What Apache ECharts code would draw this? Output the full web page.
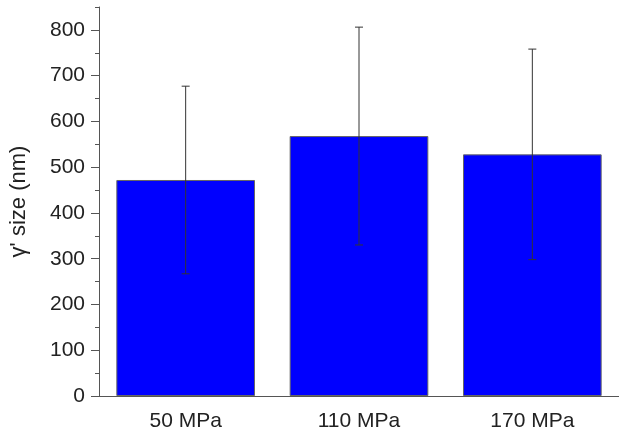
<!DOCTYPE html>
<html>
<head>
<meta charset="utf-8">
<script src="https://cdn.jsdelivr.net/npm/echarts@6/dist/echarts.min.js"></script>
<style>
  html, body { margin: 0; padding: 0; background: #fff; }
  #main { width: 619px; height: 435px; }
</style>
</head>
<body>
<div id="main"></div>
<script>
// data
let categories = ['50 MPa', '110 MPa', '170 MPa'];
let sizeMean = [472, 568, 528];
let sizeErr = [205, 238, 230];
let majorTicks = [0, 100, 200, 300, 400, 500, 600, 700, 800];
let minorTicks = [50, 150, 250, 350, 450, 550, 650, 750, 850];

let myChart = echarts.init(document.getElementById('main'));

let font = 'Liberation Sans, Arial, sans-serif';
let axisColor = '#555';

let errData = sizeMean.map(function (m, i) {
    return [i, m - sizeErr[i], m + sizeErr[i]];
});

let option = {
    backgroundColor: '#fff',
    animation: false,
    grid: { left: 98, right: 0, top: 7, bottom: 39 },
    xAxis: [{
        type: 'category',
        data: categories,
        axisLine: { lineStyle: { color: axisColor, width: 1 } },
        axisTick: { alignWithLabel: true, length: 8, lineStyle: { color: axisColor } },
        axisLabel: { color: '#222', fontSize: 21, fontFamily: font, margin: 15 }
    }, {
        // minor ticks at category boundaries
        type: 'category',
        data: categories,
        position: 'bottom',
        axisLine: { show: false },
        axisTick: { length: 4, lineStyle: { color: axisColor } },
        axisLabel: { show: false }
    }],
    yAxis: [{
        type: 'value',
        min: 0,
        max: 850,
        name: "\u03b3' size (nm)",
        nameLocation: 'middle',
        nameGap: 69,
        nameTextStyle: { color: '#222', fontSize: 22, fontFamily: font },
        axisLine: { show: true, lineStyle: { color: axisColor, width: 1 } },
        axisTick: { show: true, length: 8, customValues: majorTicks, lineStyle: { color: axisColor } },
        axisLabel: { customValues: majorTicks, color: '#222', fontSize: 21, fontFamily: font, margin: 14 },
        splitLine: { show: false }
    }, {
        type: 'value',
        min: 0,
        max: 850,
        position: 'left',
        offset: 0,
        axisLine: { show: false },
        axisTick: { show: true, length: 4, customValues: minorTicks, lineStyle: { color: axisColor } },
        axisLabel: { show: false },
        splitLine: { show: false }
    }],
    series: [{
        type: 'bar',
        data: sizeMean,
        barWidth: '80%',
        itemStyle: { color: '#0000ff', borderColor: '#666', borderWidth: 1 }
    }, {
        type: 'custom',
        data: errData,
        z: 10,
        renderItem: function (params, api) {
            let x = api.value(0);
            let lo = api.coord([x, api.value(1)]);
            let hi = api.coord([x, api.value(2)]);
            let cap = 4;
            let style = { stroke: '#333', lineWidth: 1 };
            return {
                type: 'group',
                children: [
                    { type: 'line', shape: { x1: hi[0], y1: hi[1], x2: lo[0], y2: lo[1] }, style: style },
                    { type: 'line', shape: { x1: hi[0] - cap, y1: hi[1], x2: hi[0] + cap, y2: hi[1] }, style: style },
                    { type: 'line', shape: { x1: lo[0] - cap, y1: lo[1], x2: lo[0] + cap, y2: lo[1] }, style: style }
                ]
            };
        }
    }]
};

myChart.setOption(option);
</script>
</body>
</html>
